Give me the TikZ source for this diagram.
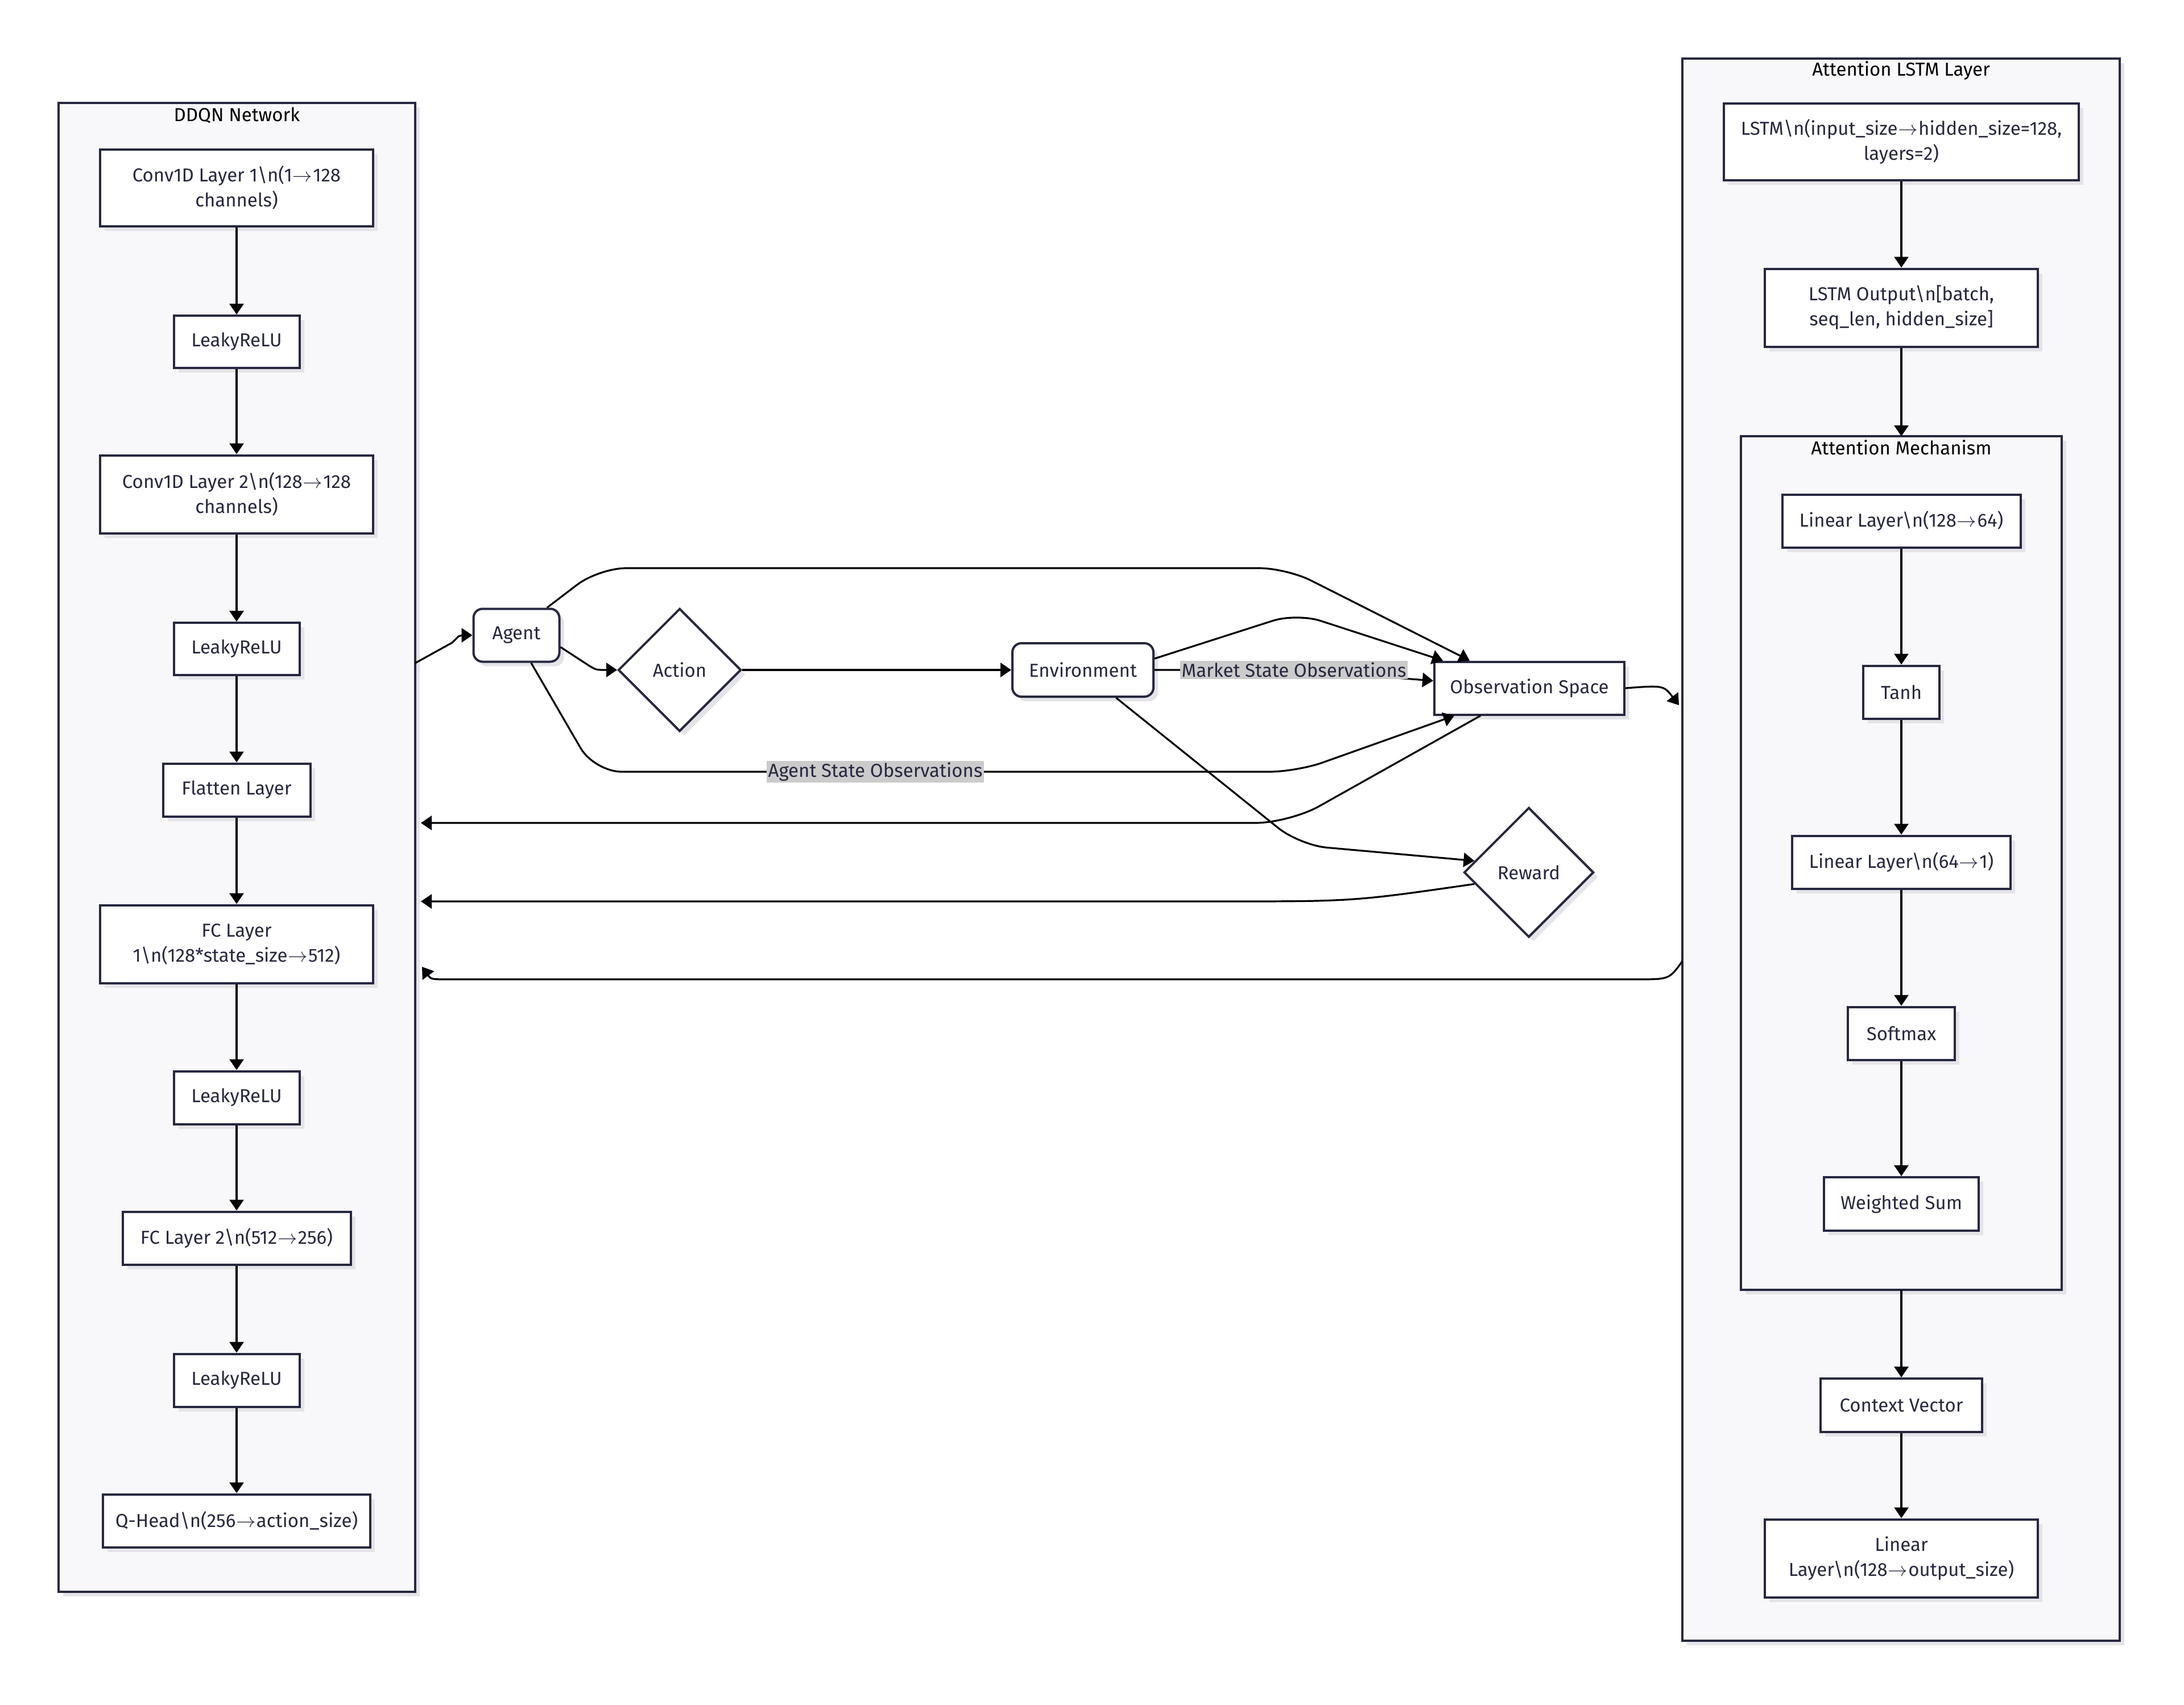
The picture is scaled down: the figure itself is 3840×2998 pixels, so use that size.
\documentclass[tikz,border=0pt]{standalone}
\usepackage{fontspec}
\setmainfont{Fira Sans}
\usetikzlibrary{arrows.meta,shapes.geometric,shadows}
\definecolor{ink}{HTML}{272840}
\definecolor{clfill}{HTML}{F8F8FA}
\definecolor{shade}{HTML}{E4E4E8}
\definecolor{lblbg}{HTML}{CBCBCB}
\newcommand{\thin}{\kern0.5pt$\rightarrow$\kern0.5pt}
\begin{document}
\begin{tikzpicture}[x=0.5pt,y=-0.5pt,
  >={Triangle[length=9.5pt,width=12.5pt]},
  font=\fontsize{16.5}{22}\selectfont,
  shd/.style={general shadow={fill=shade,draw=none,shadow xshift=4pt,shadow yshift=-4pt}},
  cluster/.style={draw=ink,line width=2pt,fill=clfill,inner sep=0pt,shd},
  ctitle/.style={text=black,inner sep=0pt},
  box/.style={draw=ink,line width=2pt,fill=white,text=ink,align=center,inner sep=0pt,shd},
  rbox/.style={box,rounded corners=8pt},
  dia/.style={diamond,aspect=1,draw=ink,line width=2pt,fill=white,text=ink,inner sep=0pt,shd},
  edge/.style={draw=black,line width=1.6pt,->},
  lbl/.style={fill=lblbg,text=ink,inner sep=1.5pt,sharp corners}]

\fill[white] (0,0) rectangle (3840,2998);
\useasboundingbox (0,0) rectangle (3840,2998);

% ---------------- clusters ----------------
\node[cluster,minimum width=313.5pt,minimum height=1309pt] (ddqn) at (416.5,1490) {};
\node[ctitle] (ddqnT) at (416.5,203) {DDQN Network};

\node[cluster,minimum width=384.5pt,minimum height=1391pt] (att) at (3342.5,1494) {};
\node[ctitle] (attT) at (3342.5,124) {Attention LSTM Layer};

\node[cluster,minimum width=282pt,minimum height=750.5pt] (mech) at (3343,1517.5) {};
\node[ctitle] (mechT) at (3343,787) {Attention Mechanism};

% ---------------- DDQN network ----------------
\node[box,minimum width=240pt,minimum height=67.5pt] (c1) at (416,330) {Conv1D Layer 1\textbackslash n(1\thin128\\channels)};
\node[box,minimum width=110.5pt,minimum height=46pt] (r1) at (416,601) {LeakyReLU};
\node[box,minimum width=240pt,minimum height=68.5pt] (c2) at (416,869) {Conv1D Layer 2\textbackslash n(128\thin128\\channels)};
\node[box,minimum width=110.5pt,minimum height=46pt] (r2) at (416,1141) {LeakyReLU};
\node[box,minimum width=129.5pt,minimum height=46.5pt] (fl) at (416,1389) {Flatten Layer};
\node[box,minimum width=240pt,minimum height=68.5pt] (f1) at (416,1660) {FC Layer\\1\textbackslash n(128*state\_size\thin512)};
\node[box,minimum width=110.5pt,minimum height=46.5pt] (r3) at (416,1930) {LeakyReLU};
\node[box,minimum width=200.5pt,minimum height=46.5pt] (f2) at (416,2177) {FC Layer 2\textbackslash n(512\thin256)};
\node[box,minimum width=110.5pt,minimum height=46.5pt] (r4) at (416,2427) {LeakyReLU};
\node[box,minimum width=235pt,minimum height=46.5pt] (qh) at (416,2674) {Q-Head\textbackslash n(256\thin action\_size)};

% ---------------- attention LSTM ----------------
\node[box,minimum width=312pt,minimum height=67.5pt] (lstm) at (3343,249) {LSTM\textbackslash n(input\_size\thin hidden\_size=128,\\layers=2)};
\node[box,minimum width=240pt,minimum height=68.5pt] (lout) at (3343,541) {LSTM Output\textbackslash n[batch,\\seq\_len, hidden\_size]};
\node[box,minimum width=209.5pt,minimum height=46.5pt] (lin1) at (3343,916) {Linear Layer\textbackslash n(128\thin64)};
\node[box,minimum width=67pt,minimum height=46.5pt] (tanh) at (3343,1217) {Tanh};
\node[box,minimum width=192pt,minimum height=46.5pt] (lin2) at (3343,1516) {Linear Layer\textbackslash n(64\thin1)};
\node[box,minimum width=94pt,minimum height=46.5pt] (soft) at (3343,1817) {Softmax};
\node[box,minimum width=136pt,minimum height=47pt] (wsum) at (3343,2117) {Weighted Sum};
\node[box,minimum width=142pt,minimum height=47pt] (ctx) at (3343,2471) {Context Vector};
\node[box,minimum width=240pt,minimum height=68.5pt] (lout2) at (3343,2740) {Linear\\Layer\textbackslash n(128\thin output\_size)};

% ---------------- environment loop ----------------
\node[rbox,minimum width=75.5pt,minimum height=46.5pt] (agent) at (908,1117) {Agent};
\node[dia,minimum width=108pt,minimum height=108pt] (action) at (1195,1178) {Action};
\node[rbox,minimum width=124pt,minimum height=47pt] (env) at (1904,1178) {Environment};
\node[box,minimum width=167pt,minimum height=46.5pt] (obs) at (2689,1210) {Observation Space};
\node[dia,minimum width=114pt,minimum height=114pt] (reward) at (2688,1534) {Reward};

% free ends on the cluster borders
\coordinate (dOut) at (730,1166);
\coordinate (dIn1) at (740,1447);
\coordinate (dIn2) at (740,1585);
\coordinate (dIn3) at (742,1700);
\coordinate (aIn) at (2952,1240);
\coordinate (aOut) at (2958,1690);
\coordinate (mTop) at (3343,767);
\coordinate (mBot) at (3343,2268);

% ---------------- edges: DDQN ----------------
\draw[edge] (c1) -- (r1);
\draw[edge] (r1) -- (c2);
\draw[edge] (c2) -- (r2);
\draw[edge] (r2) -- (fl);
\draw[edge] (fl) -- (f1);
\draw[edge] (f1) -- (r3);
\draw[edge] (r3) -- (f2);
\draw[edge] (f2) -- (r4);
\draw[edge] (r4) -- (qh);

% ---------------- edges: attention LSTM ----------------
\draw[edge] (lstm) -- (lout);
\draw[edge] (lout) -- (mTop);
\draw[edge] (lin1) -- (tanh);
\draw[edge] (tanh) -- (lin2);
\draw[edge] (lin2) -- (soft);
\draw[edge] (soft) -- (wsum);
\draw[edge] (mBot) -- (ctx);
\draw[edge] (ctx) -- (lout2);

% ---------------- edges: loop ----------------
\draw[edge] (dOut) -- (795,1130) .. controls (808,1117) .. (agent.west);
\draw[edge] (agent.-15) -- (1035,1170) .. controls (1048,1178) .. (action.west);
\draw[edge] (action.east) -- (env.west);
\draw[edge,rounded corners=24pt] (agent.42) -- (1053,999) -- (2262,999) -- (obs.north west -| 2584,0);
\draw[edge,rounded corners=22pt] (env.9) -- (2280,1078) -- (obs.north west -| 2537,0);
\draw[edge] (env.east) -- (2275,1178) node[lbl]{Market State Observations} -- (obs.west |- 0,1197);
\draw[edge,rounded corners=24pt] (agent.-62) -- (1045,1357) -- node[lbl,pos=0.4]{Agent State Observations} (2280,1357) -- (obs.south west -| 2557,0);
\draw[edge,rounded corners=30pt] (obs.south west -| 2603,0) -- (2267,1447) -- (dIn1);
\draw[edge,rounded corners=24pt] (env.-40) -- (2285,1486) -- (reward.168);
\draw[edge] (reward.192) .. controls (2380,1585) .. (2150,1585) -- (dIn2);
\draw[edge] (obs.east) .. controls (2925,1205) .. (aIn);
\draw[edge] (aOut) .. controls (2935,1722) .. (2880,1722) -- (790,1722) .. controls (758,1722) .. (dIn3);

\end{tikzpicture}
\end{document}
